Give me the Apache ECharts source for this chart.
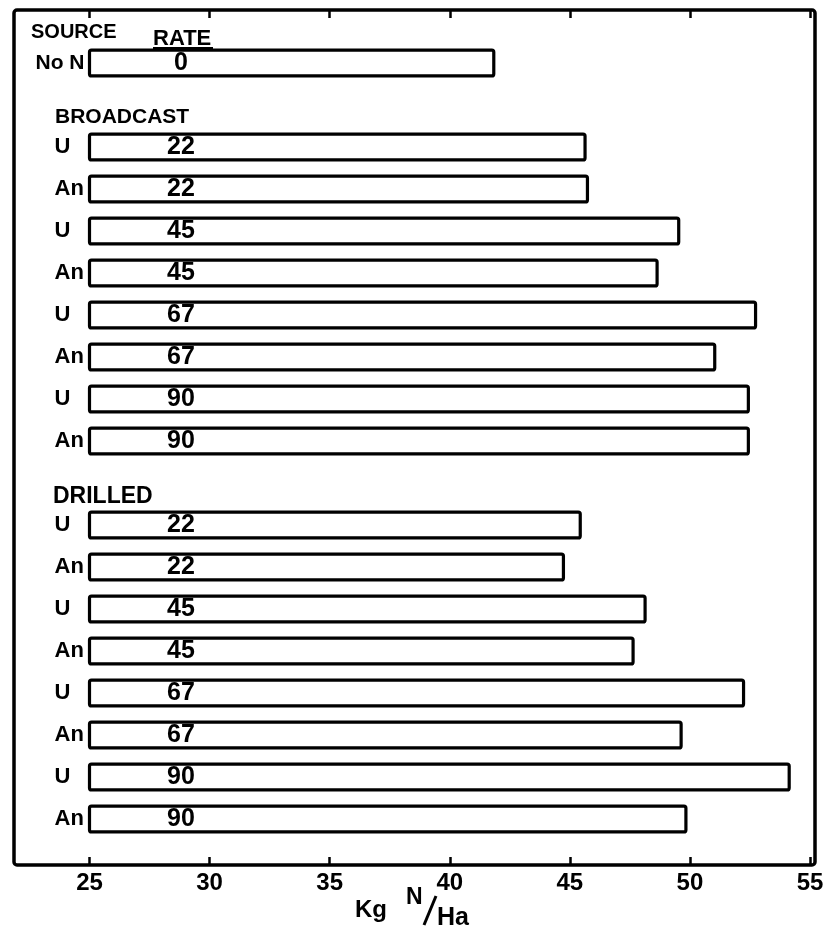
<!DOCTYPE html>
<html>
<head>
<meta charset="utf-8">
<title>Kg N/Ha by source and rate</title>
<script src="https://cdn.jsdelivr.net/npm/echarts@6/dist/echarts.min.js"></script>
<style>
  html, body { margin: 0; padding: 0; background: #fff; }
  #chart { width: 834px; height: 934px; }
</style>
</head>
<body>
<div id="chart"></div>
<script>
// Row labels, top to bottom; empty strings are the gaps before each method block.
const sources = ['No N', '',
  'U', 'An', 'U', 'An', 'U', 'An', 'U', 'An', '',
  'U', 'An', 'U', 'An', 'U', 'An', 'U', 'An'];
const rates = ['0', '',
  '22', '22', '45', '45', '67', '67', '90', '90', '',
  '22', '22', '45', '45', '67', '67', '90', '90'];
// Kg N/Ha for each row (null = gap row)
const values = [41.9, null,
  45.7, 45.8, 49.6, 48.7, 52.8, 51.1, 52.5, 52.5, null,
  45.5, 44.8, 48.2, 47.7, 52.3, 49.7, 54.2, 49.9];
const xTicks = { min: 25, max: 55, step: 5 };

const FONT = '"Liberation Sans", Arial, sans-serif';
const INK = '#000';

const chart = echarts.init(document.getElementById('chart'), null, { renderer: 'canvas' });

chart.setOption({
  backgroundColor: '#fff',
  animation: false,
  grid: { left: 89.5, right: 24, top: 42, bottom: 94, containLabel: false },
  xAxis: [
    {
      type: 'value', position: 'bottom', offset: 25,
      min: xTicks.min, max: xTicks.max, interval: xTicks.step,
      axisLine: { show: false },
      axisTick: { show: true, inside: true, length: 8, lineStyle: { color: INK, width: 2.5 } },
      axisLabel: { show: true, margin: 6, color: INK, fontFamily: FONT, fontWeight: 'bold', fontSize: 24 },
      splitLine: { show: false }
    },
    {
      type: 'value', position: 'top', offset: 32,
      min: xTicks.min, max: xTicks.max, interval: xTicks.step,
      axisLine: { show: false },
      axisTick: { show: true, inside: true, length: 8, lineStyle: { color: INK, width: 2.5 } },
      axisLabel: { show: false },
      splitLine: { show: false }
    }
  ],
  yAxis: {
    type: 'category', inverse: true, data: sources,
    axisLine: { show: false }, axisTick: { show: false },
    axisLabel: {
      margin: 5, align: 'right', color: INK,
      fontFamily: FONT, fontWeight: 'bold', fontSize: 22,
      formatter: v => v === '' ? '' : (v === 'No N' ? '{n|' + v + '}' : '{a|' + v + '}'),
      rich: {
        a: { width: 30, align: 'left', fontFamily: FONT, fontWeight: 'bold', fontSize: 22, color: INK },
        n: { fontFamily: FONT, fontWeight: 'bold', fontSize: 21, color: INK }
      }
    }
  },
  series: [{
    type: 'bar', xAxisIndex: 0, data: values, barWidth: 29,
    itemStyle: { color: '#fff', borderColor: INK, borderWidth: 3.2, borderRadius: 2 },
    label: {
      show: true, position: [93, '50%'], align: 'center', verticalAlign: 'middle',
      color: INK, fontFamily: FONT, fontWeight: 'bold', fontSize: 25,
      formatter: p => rates[p.dataIndex]
    },
    emphasis: { disabled: true }
  }],
  graphic: [
    // outer frame
    { type: 'rect', shape: { x: 14, y: 10, width: 801, height: 855, r: 3 },
      style: { fill: 'none', stroke: INK, lineWidth: 3.5 }, z: 10 },
    { type: 'text', left: 31, top: 22,
      style: { text: 'SOURCE', fill: INK, font: 'bold 20px ' + FONT } },
    { type: 'text', left: 153, top: 28,
      style: { text: 'RATE', fill: INK, font: 'bold 22px ' + FONT } },
    { type: 'line', shape: { x1: 153, y1: 48, x2: 213, y2: 48 },
      style: { stroke: INK, lineWidth: 2 } },
    { type: 'text', left: 55, top: 107,
      style: { text: 'BROADCAST', fill: INK, font: 'bold 21px ' + FONT } },
    { type: 'text', left: 53, top: 485,
      style: { text: 'DRILLED', fill: INK, font: 'bold 23px ' + FONT } },
    // x-axis title: Kg N/Ha
    { type: 'text', left: 355, top: 898,
      style: { text: 'Kg', fill: INK, font: 'bold 24px ' + FONT } },
    { type: 'text', left: 406, top: 886,
      style: { text: 'N', fill: INK, font: 'bold 23px ' + FONT } },
    { type: 'line', shape: { x1: 424, y1: 925, x2: 436, y2: 896 },
      style: { stroke: INK, lineWidth: 3 } },
    { type: 'text', left: 437, top: 906,
      style: { text: 'Ha', fill: INK, font: 'bold 25px ' + FONT } }
  ]
});
</script>
</body>
</html>
